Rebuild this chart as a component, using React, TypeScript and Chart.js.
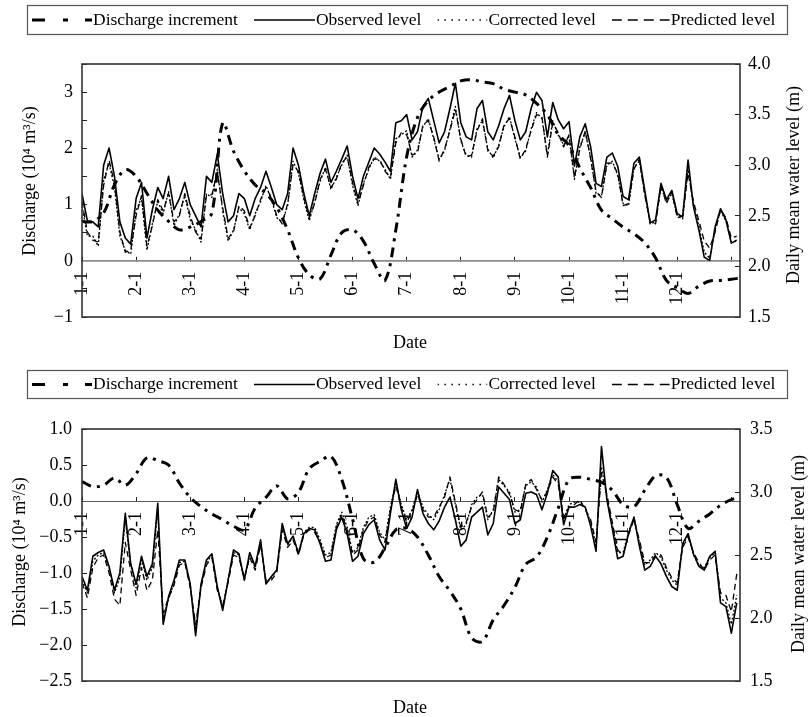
import React, { useEffect, useRef } from 'react';
import { Chart, registerables } from 'chart.js';

Chart.register(...registerables);

// ---------------- data ----------------
const MONTH_LABELS = ['1-1', '2-1', '3-1', '4-1', '5-1', '6-1', '7-1', '8-1', '9-1', '10-1', '11-1', '12-1', ''];
const SERIES_LABELS = ['Discharge increment', 'Observed level', 'Corrected level', 'Predicted level'];
const LEVEL_STEP = 0.1; // months between level samples
const DIS_STEP = 0.2; // months between discharge samples

// Top panel
const topDischarge = [
  0.70, 0.70, 0.85, 1.35, 1.62, 1.50, 1.20, 0.90, 0.70, 0.55,
  0.60, 0.70, 0.85, 2.45, 1.95, 1.60, 1.35, 1.20, 0.95, 0.55,
  0.05, -0.25, -0.32, 0.10, 0.50, 0.55, 0.35, -0.05, -0.35, 0.55,
  1.85, 2.55, 2.85, 3.00, 3.10, 3.20, 3.22, 3.18, 3.15, 3.05,
  3.00, 2.95, 2.80, 2.60, 2.25, 2.05, 1.65, 1.30, 0.90, 0.75,
  0.60, 0.48, 0.32, 0.05, -0.35, -0.48, -0.58, -0.45, -0.36, -0.35,
  -0.33, -0.30,
];
const topObserved = [
  2.72, 2.45, 2.44, 2.39, 3.00, 3.17, 2.89, 2.44, 2.28, 2.22,
  2.67, 2.83, 2.28, 2.56, 2.78, 2.67, 2.89, 2.56, 2.67, 2.83,
  2.61, 2.50, 2.39, 2.89, 2.83, 3.11, 2.72, 2.44, 2.50, 2.72,
  2.67, 2.50, 2.67, 2.78, 2.94, 2.78, 2.61, 2.56, 2.72, 3.17,
  3.00, 2.72, 2.50, 2.72, 2.92, 3.06, 2.83, 2.94, 3.06, 3.19,
  2.89, 2.67, 2.89, 3.03, 3.17, 3.11, 3.03, 2.94, 3.42, 3.44,
  3.50, 3.25, 3.33, 3.58, 3.66, 3.44, 3.22, 3.33, 3.56, 3.81,
  3.42, 3.28, 3.25, 3.56, 3.64, 3.33, 3.25, 3.39, 3.56, 3.69,
  3.44, 3.25, 3.33, 3.56, 3.72, 3.64, 3.28, 3.62, 3.45, 3.36,
  3.43, 2.99, 3.28, 3.41, 3.18, 2.82, 2.79, 3.08, 3.12, 2.99,
  2.69, 2.66, 3.02, 3.08, 2.75, 2.43, 2.46, 2.82, 2.66, 2.75,
  2.52, 2.49, 3.05, 2.59, 2.36, 2.09, 2.06, 2.39, 2.57, 2.46,
  2.23, 2.26,
];
const topCorrected = [
  2.60, 2.30, 2.30, 2.20, 2.85, 3.02, 2.78, 2.30, 2.16, 2.12,
  2.55, 2.68, 2.16, 2.42, 2.64, 2.52, 2.74, 2.40, 2.52, 2.70,
  2.46, 2.36, 2.24, 2.72, 2.68, 2.96, 2.55, 2.25, 2.36, 2.58,
  2.52, 2.36, 2.52, 2.64, 2.80, 2.66, 2.48, 2.44, 2.60, 3.04,
  2.92, 2.66, 2.45, 2.64, 2.84, 2.98, 2.76, 2.88, 3.00, 3.10,
  2.80, 2.60, 2.82, 2.96, 3.08, 3.04, 2.96, 2.86, 3.26, 3.30,
  3.34, 3.08, 3.15, 3.38, 3.46, 3.26, 3.06, 3.14, 3.36, 3.58,
  3.24, 3.10, 3.08, 3.36, 3.44, 3.16, 3.07, 3.20, 3.38, 3.48,
  3.26, 3.08, 3.14, 3.36, 3.52, 3.46, 3.10, 3.44, 3.30, 3.20,
  3.28, 2.86, 3.18, 3.32, 3.08, 2.72, 2.70, 3.00, 3.04, 2.90,
  2.62, 2.60, 2.98, 3.04, 2.72, 2.42, 2.44, 2.78, 2.64, 2.72,
  2.50, 2.47, 2.96, 2.60, 2.40, 2.14, 2.08, 2.36, 2.55, 2.45,
  2.24, 2.25,
];
const topPredicted = [
  2.64, 2.34, 2.26, 2.24, 2.80, 3.05, 2.82, 2.34, 2.14, 2.16,
  2.50, 2.70, 2.20, 2.40, 2.66, 2.55, 2.72, 2.44, 2.50, 2.72,
  2.50, 2.34, 2.27, 2.70, 2.71, 2.93, 2.58, 2.28, 2.34, 2.60,
  2.55, 2.38, 2.50, 2.66, 2.78, 2.68, 2.50, 2.42, 2.62, 3.00,
  2.94, 2.68, 2.48, 2.62, 2.86, 2.96, 2.78, 2.86, 3.02, 3.08,
  2.83, 2.62, 2.80, 2.98, 3.06, 3.06, 2.94, 2.88, 3.22, 3.32,
  3.30, 3.10, 3.12, 3.40, 3.44, 3.28, 3.04, 3.16, 3.34, 3.55,
  3.26, 3.08, 3.10, 3.34, 3.46, 3.14, 3.09, 3.18, 3.40, 3.46,
  3.28, 3.06, 3.16, 3.34, 3.50, 3.48, 3.08, 3.42, 3.32, 3.18,
  3.30, 2.88, 3.16, 3.34, 3.06, 2.74, 2.68, 3.02, 3.02, 2.92,
  2.60, 2.62, 2.96, 3.06, 2.70, 2.45, 2.42, 2.80, 2.62, 2.74,
  2.48, 2.50, 2.92, 2.64, 2.45, 2.25, 2.18, 2.34, 2.56, 2.48,
  2.28, 2.30,
];

// Bottom panel
const botDischarge = [
  0.27, 0.20, 0.22, 0.32, 0.22, 0.38, 0.60, 0.56, 0.50, 0.25,
  0.05, -0.08, -0.18, -0.26, -0.35, -0.40, -0.10, 0.05, 0.21, 0.03,
  0.12, 0.45, 0.55, 0.62, 0.30, -0.25, -0.80, -0.85, -0.65, -0.40,
  -0.38, -0.50, -0.75, -1.05, -1.25, -1.50, -1.90, -1.95, -1.65, -1.45,
  -1.20, -0.88, -0.78, -0.50, -0.10, 0.30, 0.33, 0.30, 0.26, 0.15,
  -0.05, -0.08, 0.15, 0.35, 0.33, -0.05, -0.38, -0.28, -0.18, -0.06,
  0.02, 0.05,
];
const botObserved = [
  2.33, 2.22, 2.49, 2.52, 2.54, 2.41, 2.22, 2.36, 2.83, 2.43,
  2.27, 2.49, 2.33, 2.43, 2.91, 1.95, 2.17, 2.30, 2.46, 2.46,
  2.27, 1.86, 2.27, 2.46, 2.51, 2.25, 2.06, 2.30, 2.54, 2.51,
  2.30, 2.52, 2.41, 2.62, 2.27, 2.33, 2.38, 2.75, 2.59, 2.65,
  2.51, 2.67, 2.71, 2.70, 2.59, 2.45, 2.46, 2.70, 2.80, 2.67,
  2.45, 2.49, 2.67, 2.74, 2.78, 2.62, 2.54, 2.83, 3.10, 2.86,
  2.71, 2.80, 3.02, 2.83, 2.75, 2.70, 2.77, 2.88, 2.96, 2.78,
  2.57, 2.62, 2.80, 2.84, 2.88, 2.66, 2.75, 3.04, 2.99, 2.94,
  2.75, 2.78, 2.99, 3.00, 2.98, 2.86, 2.99, 3.17, 3.12, 2.74,
  2.88, 2.88, 2.90, 2.88, 2.73, 2.53, 3.36, 2.94, 2.71, 2.47,
  2.49, 2.67, 2.80, 2.57, 2.38, 2.41, 2.49, 2.43, 2.33, 2.25,
  2.22, 2.59, 2.67, 2.51, 2.41, 2.38, 2.49, 2.53, 2.12, 2.09,
  1.88, 2.12,
];
const botCorrected = [
  2.30, 2.20, 2.45, 2.50, 2.52, 2.40, 2.20, 2.32, 2.78, 2.42,
  2.24, 2.46, 2.30, 2.40, 2.86, 2.00, 2.15, 2.28, 2.44, 2.45,
  2.26, 1.92, 2.26, 2.44, 2.50, 2.24, 2.08, 2.30, 2.52, 2.50,
  2.30, 2.50, 2.40, 2.60, 2.28, 2.32, 2.38, 2.72, 2.58, 2.64,
  2.52, 2.68, 2.72, 2.72, 2.62, 2.50, 2.52, 2.74, 2.84, 2.72,
  2.52, 2.56, 2.72, 2.80, 2.82, 2.68, 2.62, 2.88, 3.08, 2.90,
  2.78, 2.86, 3.00, 2.88, 2.82, 2.78, 2.86, 2.98, 3.10, 2.90,
  2.70, 2.74, 2.90, 2.96, 2.98, 2.78, 2.86, 3.10, 3.05, 3.00,
  2.84, 2.86, 3.05, 3.08, 3.04, 2.92, 3.02, 3.14, 3.08, 2.78,
  2.90, 2.92, 2.92, 2.88, 2.76, 2.58, 3.20, 2.96, 2.74, 2.52,
  2.52, 2.68, 2.80, 2.60, 2.42, 2.46, 2.52, 2.48, 2.38, 2.30,
  2.26, 2.58, 2.66, 2.50, 2.42, 2.40, 2.48, 2.52, 2.16, 2.12,
  1.95, 2.18,
];
const botPredicted = [
  2.28, 2.16, 2.40, 2.48, 2.50, 2.36, 2.15, 2.10, 2.60, 2.38,
  2.18, 2.40, 2.22, 2.30, 2.70, 2.04, 2.16, 2.26, 2.42, 2.44,
  2.24, 1.95, 2.24, 2.42, 2.48, 2.22, 2.10, 2.28, 2.50, 2.48,
  2.32, 2.48, 2.38, 2.58, 2.30, 2.30, 2.36, 2.70, 2.56, 2.62,
  2.50, 2.66, 2.70, 2.68, 2.60, 2.48, 2.50, 2.72, 2.82, 2.70,
  2.50, 2.54, 2.70, 2.78, 2.80, 2.66, 2.60, 2.86, 3.05, 2.88,
  2.76, 2.84, 2.98, 2.86, 2.80, 2.80, 2.88, 2.96, 3.12, 2.92,
  2.72, 2.76, 2.88, 2.94, 3.00, 2.80, 2.84, 3.12, 3.06, 2.98,
  2.86, 2.84, 3.06, 3.10, 3.02, 2.94, 3.00, 3.12, 3.06, 2.80,
  2.88, 2.90, 2.94, 2.86, 2.78, 2.60, 3.15, 2.98, 2.76, 2.54,
  2.50, 2.66, 2.78, 2.62, 2.44, 2.44, 2.50, 2.50, 2.40, 2.32,
  2.28, 2.56, 2.64, 2.52, 2.44, 2.38, 2.46, 2.50, 2.20, 2.18,
  2.05, 2.35,
];

// ---------------- styling ----------------
const FONT_FAMILY = '"Liberation Serif", "Times New Roman", Times, serif';
const INK = '#000';

const LINE_STYLES = [
  { borderWidth: 3, borderDash: [10, 6, 3, 6], tension: 0.35 },
  { borderWidth: 1.6, borderDash: [] as number[], tension: 0 },
  { borderWidth: 1.3, borderDash: [2, 2], tension: 0 },
  { borderWidth: 1.3, borderDash: [6, 4], tension: 0 },
];
const LEGEND_SYMBOLS = [
  { width: 60, lineWidth: 3, dash: [13, 18, 5, 17] },
  { width: 61, lineWidth: 1.6, dash: [] as number[] },
  { width: 50, lineWidth: 1.6, dash: [1.5, 5.5] },
  { width: 58, lineWidth: 1.6, dash: [10, 6] },
];

const fmt = (v: number, digits: number) => {
  const r = Math.round(v * 100) / 100;
  return (r === 0 ? 0 : r).toFixed(digits).replace('-', '\u2212');
};

interface PanelSpec {
  discharge: number[];
  observed: number[];
  corrected: number[];
  predicted: number[];
  height: number;
  leftMin: number;
  leftMax: number;
  rightMin: number;
  rightMax: number;
  leftDigits: number; // -1 => integers only
  padTop: number;
  padBottom: number;
  leftPad: number;
  rightPad: number;
  legendTop: number;
  legendBottom: number;
  leftTitle: [number, number];
  rightTitle: [number, number];
  dateTitle: [number, number];
  zeroColor: string;
  zeroWidth: number;
}

const TOP_SPEC: PanelSpec = {
  discharge: topDischarge,
  observed: topObserved,
  corrected: topCorrected,
  predicted: topPredicted,
  height: 360,
  leftMin: -1,
  leftMax: 3.5,
  rightMin: 1.5,
  rightMax: 4.0,
  leftDigits: -1,
  padTop: 64,
  padBottom: 43,
  leftPad: 14,
  rightPad: 13,
  legendTop: 5,
  legendBottom: 34,
  leftTitle: [30, 181],
  rightTitle: [794, 185],
  dateTitle: [410, 343],
  zeroColor: '#8c8c8c',
  zeroWidth: 1.8,
};

const BOTTOM_SPEC: PanelSpec = {
  discharge: botDischarge,
  observed: botObserved,
  corrected: botCorrected,
  predicted: botPredicted,
  height: 357,
  leftMin: -2.5,
  leftMax: 1.0,
  rightMin: 1.5,
  rightMax: 3.5,
  leftDigits: 1,
  padTop: 69,
  padBottom: 36,
  leftPad: 15,
  rightPad: 15,
  legendTop: 10,
  legendBottom: 38,
  leftTitle: [20, 192],
  rightTitle: [799, 194],
  dateTitle: [410, 348],
  zeroColor: '#555',
  zeroWidth: 1,
};

function makePlugin(spec: PanelSpec) {
  return {
    id: 'panelDecor',
    afterDatasetsDraw(chart: any) {
      const { ctx, chartArea } = chart;
      ctx.save();
      ctx.strokeStyle = '#333';
      ctx.lineWidth = 1.6;
      ctx.setLineDash([]);
      ctx.strokeRect(chartArea.left, chartArea.top, chartArea.right - chartArea.left, chartArea.bottom - chartArea.top);
      ctx.restore();
    },
    afterDraw(chart: any) {
      const { ctx } = chart;
      ctx.save();
      // legend box
      ctx.strokeStyle = '#555';
      ctx.lineWidth = 1.2;
      ctx.setLineDash([]);
      ctx.strokeRect(27.5, spec.legendTop + 0.5, 760, spec.legendBottom - spec.legendTop);
      ctx.font = `17.5px ${FONT_FAMILY}`;
      ctx.textBaseline = 'middle';
      ctx.textAlign = 'left';
      ctx.fillStyle = INK;
      const cy = (spec.legendTop + spec.legendBottom) / 2 + 0.5;
      let x = 32;
      chart.data.datasets.forEach((ds: any, i: number) => {
        const sym = LEGEND_SYMBOLS[i];
        ctx.save();
        ctx.beginPath();
        ctx.rect(x, cy - 5, sym.width, 10);
        ctx.clip();
        ctx.strokeStyle = INK;
        ctx.lineWidth = sym.lineWidth;
        ctx.setLineDash(sym.dash);
        ctx.beginPath();
        ctx.moveTo(x, cy);
        ctx.lineTo(x + sym.width, cy);
        ctx.stroke();
        ctx.restore();
        const tx = x + sym.width + 1;
        ctx.fillText(ds.label, tx, cy);
        x = tx + ctx.measureText(ds.label).width + 16;
      });
      // axis titles
      ctx.font = `18px ${FONT_FAMILY}`;
      ctx.textAlign = 'center';
      const rot = (text: string, p: [number, number]) => {
        ctx.save();
        ctx.translate(p[0], p[1]);
        ctx.rotate(-Math.PI / 2);
        ctx.fillText(text, 0, 0);
        ctx.restore();
      };
      rot('Discharge (10\u2074 m\u00B3/s)', spec.leftTitle);
      rot('Daily mean water level (m)', spec.rightTitle);
      ctx.fillText('Date', spec.dateTitle[0], spec.dateTitle[1]);
      ctx.restore();
    },
  };
}

function buildConfig(spec: PanelSpec): any {
  const tickFont = { family: FONT_FAMILY, size: 18 };
  const levelSeries = [spec.observed, spec.corrected, spec.predicted];
  const datasets = [
    {
      label: SERIES_LABELS[0],
      data: spec.discharge.map((v, i) => ({ x: i * DIS_STEP, y: v })),
      yAxisID: 'y',
      ...LINE_STYLES[0],
    },
    ...levelSeries.map((arr, k) => ({
      label: SERIES_LABELS[k + 1],
      data: arr.map((v, i) => ({ x: i * LEVEL_STEP, y: v })),
      yAxisID: 'y2',
      ...LINE_STYLES[k + 1],
    })),
  ].map((d) => ({
    ...d,
    borderColor: INK,
    backgroundColor: INK,
    pointRadius: 0,
    fill: false,
    borderCapStyle: 'butt',
    borderJoinStyle: 'round',
  }));

  return {
    type: 'line',
    data: { datasets },
    options: {
      responsive: false,
      animation: false,
      devicePixelRatio: 1,
      events: [],
      layout: { padding: { top: spec.padTop, bottom: spec.padBottom, left: 0, right: 0 } },
      plugins: { legend: { display: false }, tooltip: { enabled: false }, title: { display: false } },
      scales: {
        x: {
          type: 'linear',
          min: 0,
          max: 12.16,
          position: { y: 0 },
          afterFit: (s: any) => {
            s.height = 0;
          },
          afterBuildTicks: (s: any) => {
            s.ticks = MONTH_LABELS.map((_, i) => ({ value: i }));
          },
          grid: { display: true, drawOnChartArea: false, drawTicks: true, tickLength: -5, tickColor: '#222', tickWidth: 1 },
          border: { display: true, color: spec.zeroColor, width: spec.zeroWidth },
          ticks: {
            autoSkip: false,
            minRotation: 90,
            maxRotation: 90,
            padding: 16,
            font: tickFont,
            color: INK,
            callback: (_v: any, idx: number) => MONTH_LABELS[idx] ?? '',
          },
        },
        y: {
          type: 'linear',
          position: 'left',
          min: spec.leftMin,
          max: spec.leftMax,
          afterFit: (s: any) => {
            s.width = 82;
          },
          grid: { display: true, drawOnChartArea: false, drawTicks: true, tickLength: -5, tickColor: '#222', tickWidth: 1 },
          border: { display: false },
          ticks: {
            stepSize: 0.5,
            padding: spec.leftPad,
            font: tickFont,
            color: INK,
            callback: (v: number) => {
              const r = Math.round(v * 100) / 100;
              if (spec.leftDigits < 0) return Number.isInteger(r) ? fmt(r, 0) : '';
              return fmt(r, spec.leftDigits);
            },
          },
        },
        y2: {
          type: 'linear',
          position: 'right',
          min: spec.rightMin,
          max: spec.rightMax,
          afterFit: (s: any) => {
            s.width = 68;
          },
          grid: { display: true, drawOnChartArea: false, drawTicks: true, tickLength: -5, tickColor: '#222', tickWidth: 1 },
          border: { display: false },
          ticks: {
            stepSize: 0.5,
            padding: spec.rightPad,
            font: tickFont,
            color: INK,
            callback: (v: number) => fmt(v, 1),
          },
        },
      },
    },
    plugins: [makePlugin(spec)],
  };
}

function Panel({ spec, top }: { spec: PanelSpec; top: number }) {
  const ref = useRef<HTMLCanvasElement>(null);
  useEffect(() => {
    if (!ref.current) return;
    const chart = new Chart(ref.current, buildConfig(spec));
    return () => chart.destroy();
  }, [spec]);
  return (
    <canvas
      ref={ref}
      width={808}
      height={spec.height}
      style={{ position: 'absolute', left: 0, top, width: 808, height: spec.height }}
    />
  );
}

export default function App() {
  return (
    <div style={{ position: 'fixed', left: 0, top: 0, width: 808, height: 717, background: '#fff', overflow: 'hidden' }}>
      <Panel spec={TOP_SPEC} top={0} />
      <Panel spec={BOTTOM_SPEC} top={360} />
    </div>
  );
}
